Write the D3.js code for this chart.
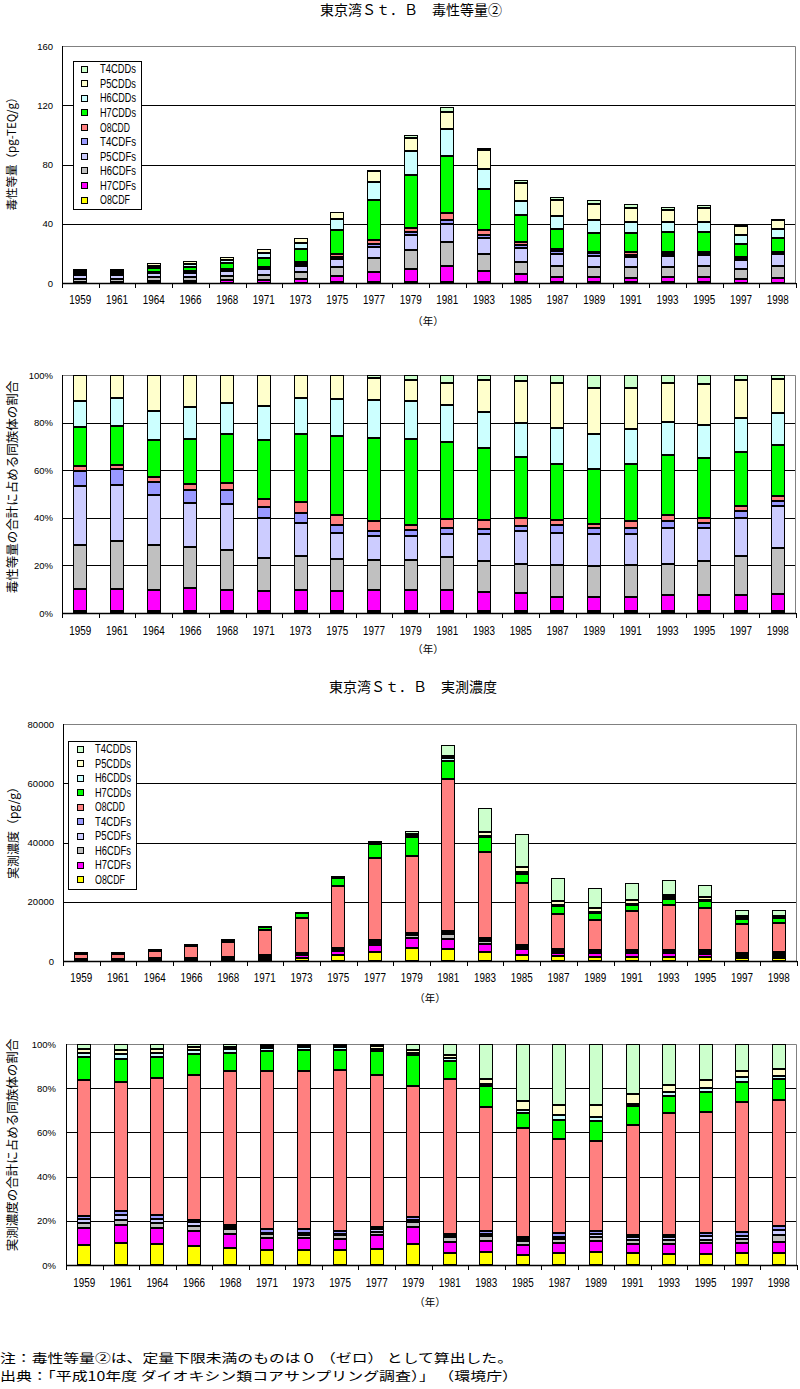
<!DOCTYPE html>
<html>
<head>
<meta charset="utf-8">
<script src="https://cdnjs.cloudflare.com/ajax/libs/d3/7.8.5/d3.min.js"></script>
<style>
  body { margin: 0; background: #fff; }
  svg { display: block; }
</style>
</head>
<body>
<script>
// categories
var years = ['1959','1961','1964','1966','1968','1971','1973','1975','1977','1979',
             '1981','1983','1985','1987','1989','1991','1993','1995','1997','1998'];

// congeners, stacked bottom -> top
var names = ['O8CDF','H7CDFs','H6CDFs','P5CDFs','T4CDFs','O8CDD','H7CDDs','H6CDDs','P5CDDs','T4CDDs'];
var colors = ['#ffff00','#ff00ff','#c0c0c0','#ccccff','#9999ff','#ff8080','#00ff00','#ccffff','#ffffcc','#ccffcc'];

// toxic equivalent (pg-TEQ/g)
var teqO8CDF  = [0.07,0.07,0.09,0.10,0.12,0.16,0.21,0.34,0.53,0.70,0.83,0.64,0.49,0.41,0.39,0.37,0.36,0.37,0.27,0.30];
var teqH7CDFs = [0.90,0.90,1.23,1.48,1.60,1.96,2.75,4.08,6.93,9.06,10.83,7.58,5.36,3.60,3.48,3.31,3.44,3.52,2.63,3.05];
var teqH6CDFs = [1.76,1.89,2.51,2.53,2.96,3.22,4.23,6.38,9.37,12.55,16.18,11.60,8.56,7.61,7.12,7.05,6.89,7.67,6.43,8.43];
var teqP5CDFs = [2.35,2.23,2.84,2.80,3.40,3.84,4.26,5.42,7.70,9.96,11.78,10.32,9.47,8.02,7.52,7.10,7.66,7.09,6.39,7.53];
var teqT4CDFs = [0.60,0.67,0.78,0.77,0.99,1.08,1.30,1.58,1.60,2.29,2.86,2.19,1.60,1.74,1.51,1.34,1.44,1.31,1.02,0.95];
var teqO8CDD  = [0.22,0.13,0.27,0.42,0.58,0.78,1.33,1.92,3.20,2.39,4.64,3.29,2.44,1.28,1.07,1.44,1.44,1.10,0.90,0.86];
var teqH7CDDs = [1.55,1.58,2.09,2.79,3.59,5.66,8.64,16.03,26.75,35.86,38.44,27.76,17.75,13.77,12.90,12.87,12.90,13.18,8.86,9.25];
var teqH6CDDs = [1.04,1.10,1.66,2.01,2.27,3.31,4.62,7.30,12.27,16.04,18.68,13.79,9.95,8.83,8.30,7.90,7.14,7.19,5.64,5.85];
var teqP5CDDs = [1.03,0.93,2.03,2.00,2.09,2.99,2.87,4.94,7.01,8.76,10.95,12.33,12.11,10.98,10.83,9.18,8.33,9.19,6.19,6.02];
var teqT4CDDs = [0,0,0,0,0,0,0,0,0.84,1.99,3.81,1.83,1.88,1.86,2.97,2.83,1.80,1.89,0.86,0.77];

// measured concentration (pg/g)
var conO8CDF  = [273,300,394,495,588,816,1143,1982,3001,4262,4089,3096,2013,1571,1481,1477,1396,1310,959,959];
var conH7CDFs = [231,240,288,385,454,651,911,1408,2515,3383,3504,2580,1927,1235,1160,1081,1259,1207,719,822];
var conH6CDFs = [72,72,97,138,164,177,199,460,608,967,1679,1084,728,449,444,422,438,437,360,548];
var conP5CDFs = [45,69,65,92,74,95,132,230,446,352,511,413,385,337,370,396,411,385,240,411];
var conT4CDFs = [45,48,69,52,67,177,298,345,406,483,365,722,428,449,395,211,219,437,308,257];
var conO8CDD  = [1848,1758,2525,3789,5171,8447,11824,20973,27946,26056,51253,28896,20982,11982,10020,13132,15059,14027,10021,9764];
var conH7CDDs = [315,315,378,541,618,1112,1623,2586,4421,6196,6060,4902,3040,2413,2246,2215,2190,2338,1576,1627];
var conH6CDDs = [45,66,85,109,126,142,199,345,365,395,949,464,557,561,370,316,520,437,360,257];
var conP5CDDs = [54,54,65,81,89,106,132,230,406,659,949,1342,1756,1347,1407,1213,849,873,497,514];
var conT4CDDs = [72,78,93,69,89,106,99,172,446,1186,3651,8101,11005,7717,6787,5907,5038,4239,2090,1970];

var teqSeries = [teqO8CDF,teqH7CDFs,teqH6CDFs,teqP5CDFs,teqT4CDFs,teqO8CDD,teqH7CDDs,teqH6CDDs,teqP5CDDs,teqT4CDDs];
var conSeries = [conO8CDF,conH7CDFs,conH6CDFs,conP5CDFs,conT4CDFs,conO8CDD,conH7CDDs,conH6CDDs,conP5CDDs,conT4CDDs];

var jp = "'Noto Sans CJK JP', sans-serif";
var num = "'Liberation Sans', Arial, sans-serif";

var svg = d3.select('body').append('svg')
    .attr('width', 800)
    .attr('height', 1389);

function makeRows(series) {
    return years.map(function(yr, i) {
        var r = { year: yr };
        names.forEach(function(n, j) { r[n] = series[j][i]; });
        return r;
    });
}

function drawPanel(c) {
    var g = svg.append('g');
    var rows = makeRows(c.series);
    var stack = d3.stack()
        .keys(names)
        .offset(c.percent ? d3.stackOffsetExpand : d3.stackOffsetNone)(rows);

    var x = d3.scaleBand().domain(years).range([c.left, c.right]);
    var y = d3.scaleLinear().domain([0, c.percent ? 1 : c.yMax]).range([c.bottom, c.top]);

    // gridlines
    g.selectAll('.grid')
        .data(c.ticks.slice(1, -1))
        .enter().append('line')
        .attr('x1', c.left).attr('x2', c.right)
        .attr('y1', function(d) { return Math.round(y(d)) + 0.5; })
        .attr('y2', function(d) { return Math.round(y(d)) + 0.5; })
        .attr('stroke', '#000');

    // plot area border top / right
    g.append('path')
        .attr('d', 'M' + c.left + ',' + (c.top + 0.5) + 'H' + (c.right - 0.5) + 'V' + c.bottom)
        .attr('fill', 'none').attr('stroke', '#808080');

    // bars
    var bw = 14;
    stack.forEach(function(layer, li) {
        layer.forEach(function(d) {
            var cx = x(d.data.year) + x.bandwidth() / 2;
            var bx = Math.round(cx - bw / 2);
            var yTop = Math.round(y(d[1]));
            var yBot = Math.round(y(d[0]));
            var h = yBot - yTop;
            if (h <= 0) return;
            if (h === 1) {
                g.append('rect').attr('x', bx).attr('y', yTop).attr('width', bw).attr('height', 1).attr('fill', '#000');
                return;
            }
            g.append('rect')
                .attr('x', bx + 0.5).attr('y', yTop + 0.5)
                .attr('width', bw - 1).attr('height', h - 1)
                .attr('fill', colors[li])
                .attr('stroke', '#000');
        });
    });

    // axes lines
    g.append('line').attr('x1', c.left + 0.5).attr('x2', c.left + 0.5)
        .attr('y1', c.top).attr('y2', c.bottom + 1).attr('stroke', '#000');
    g.append('line').attr('x1', c.left).attr('x2', c.right)
        .attr('y1', c.bottom + 0.5).attr('y2', c.bottom + 0.5).attr('stroke', '#000').attr('stroke-width', 1.5);

    // category ticks between bars
    d3.range(years.length + 1).forEach(function(i) {
        var tx = Math.round(c.left + i * x.step()) + 0.5;
        g.append('line').attr('x1', tx).attr('x2', tx)
            .attr('y1', c.bottom).attr('y2', c.bottom + 5).attr('stroke', '#000');
    });

    // x labels (narrow, like the original bitmap font)
    var xAxis = d3.axisBottom(x).tickSize(0).tickPadding(0);
    var xg = g.append('g').attr('transform', 'translate(0,' + c.xLabelY + ')').call(xAxis);
    xg.select('.domain').remove();
    xg.selectAll('text')
        .attr('dy', '0.35em')
        .attr('font-family', num)
        .attr('font-size', 12.5)
        .attr('fill', '#000')
        .attr('x', -11)
        .attr('text-anchor', 'start')
        .attr('textLength', 22)
        .attr('lengthAdjust', 'spacingAndGlyphs');

    // y labels
    var yAxis = d3.axisLeft(y).tickValues(c.ticks).tickSize(0).tickPadding(0)
        .tickFormat(c.percent ? d3.format('.0%') : d3.format('d'));
    var yg = g.append('g').attr('transform', 'translate(' + c.yLabelX + ',0)').call(yAxis);
    yg.select('.domain').remove();
    yg.selectAll('text')
        .attr('font-family', num)
        .attr('font-size', 9.5)
        .attr('fill', '#000');

    // titles
    if (c.title) {
        g.append('text')
            .attr('x', c.titleX).attr('y', c.titleY)
            .attr('text-anchor', 'middle').attr('dy', '0.35em')
            .attr('font-family', jp).attr('font-size', 14)
            .text(c.title);
    }
    g.append('text')
        .attr('transform', 'translate(' + c.yTitleX + ',' + c.yTitleY + ')rotate(-90)')
        .attr('text-anchor', 'middle').attr('dy', '0.35em')
        .attr('font-family', jp).attr('font-size', c.yTitleSize)
        .text(c.yTitle);
    g.append('text')
        .attr('x', c.nenX).attr('y', c.nenY)
        .attr('text-anchor', 'middle').attr('dy', '0.35em')
        .attr('font-family', jp).attr('font-size', 10.5)
        .text('（年）');

    // legend
    if (c.legend) {
        var L = c.legend;
        g.append('rect')
            .attr('x', L.x + 0.5).attr('y', L.y + 0.5)
            .attr('width', L.w).attr('height', L.h)
            .attr('fill', '#fff').attr('stroke', '#000');
        names.slice().reverse().forEach(function(n, i) {
            var ci = names.length - 1 - i;
            var cy = L.first + i * L.step;
            g.append('rect')
                .attr('x', L.swX + 0.5).attr('y', Math.round(cy - 3.5) + 0.5)
                .attr('width', 6).attr('height', 6)
                .attr('fill', colors[ci]).attr('stroke', '#000');
            g.append('text')
                .attr('x', L.textX).attr('y', cy)
                .attr('dy', '0.35em')
                .attr('font-family', num).attr('font-size', 12.5)
                .attr('textLength', n.length * 6)
                .attr('lengthAdjust', 'spacingAndGlyphs')
                .text(n);
        });
    }
}

drawPanel({
    series: teqSeries, percent: false, yMax: 160, ticks: [0, 40, 80, 120, 160],
    left: 62, right: 796, top: 46, bottom: 283, yLabelX: 53, xLabelY: 300,
    title: '東京湾Ｓｔ．Ｂ　毒性等量②', titleX: 411, titleY: 10,
    yTitle: '毒性等量（pg-TEQ/g）', yTitleX: 12, yTitleY: 151, yTitleSize: 11.5,
    nenX: 428, nenY: 321,
    legend: { x: 73, y: 61, w: 68, h: 148, first: 69, step: 14.56, swX: 81, textX: 100 }
});

drawPanel({
    series: teqSeries, percent: true, ticks: [0, 0.2, 0.4, 0.6, 0.8, 1],
    left: 62, right: 796, top: 375, bottom: 613, yLabelX: 53, xLabelY: 631,
    yTitle: '毒性等量の合計に占める同族体の割合', yTitleX: 12.5, yTitleY: 487, yTitleSize: 12.5,
    nenX: 428, nenY: 649
});

drawPanel({
    series: conSeries, percent: false, yMax: 80000, ticks: [0, 20000, 40000, 60000, 80000],
    left: 63, right: 797, top: 724, bottom: 961, yLabelX: 54, xLabelY: 978,
    title: '東京湾Ｓｔ．Ｂ　実測濃度', titleX: 413, titleY: 687,
    yTitle: '実測濃度（pg/g）', yTitleX: 14, yTitleY: 830, yTitleSize: 12,
    nenX: 430, nenY: 998,
    legend: { x: 68, y: 741, w: 68, h: 148, first: 749, step: 14.5, swX: 77, textX: 95 }
});

drawPanel({
    series: conSeries, percent: true, ticks: [0, 0.2, 0.4, 0.6, 0.8, 1],
    left: 66, right: 797, top: 1044, bottom: 1265, yLabelX: 56, xLabelY: 1283,
    yTitle: '実測濃度の合計に占める同族体の割合', yTitleX: 12.5, yTitleY: 1145, yTitleSize: 12.5,
    nenX: 430, nenY: 1302
});

// footnotes
svg.append('text')
    .attr('x', 0).attr('y', 1359).attr('dy', '0.35em')
    .attr('font-family', jp).attr('font-size', 12.5)
    .attr('textLength', 513).attr('lengthAdjust', 'spacingAndGlyphs')
    .text('注：毒性等量②は、定量下限未満のものは０ （ゼロ） として算出した。');
svg.append('text')
    .attr('x', 0).attr('y', 1377).attr('dy', '0.35em')
    .attr('font-family', jp).attr('font-size', 12.5)
    .attr('textLength', 518).attr('lengthAdjust', 'spacingAndGlyphs')
    .text('出典：「平成10年度 ダイオキシン類コアサンプリング調査）」 （環境庁）');
</script>
</body>
</html>
